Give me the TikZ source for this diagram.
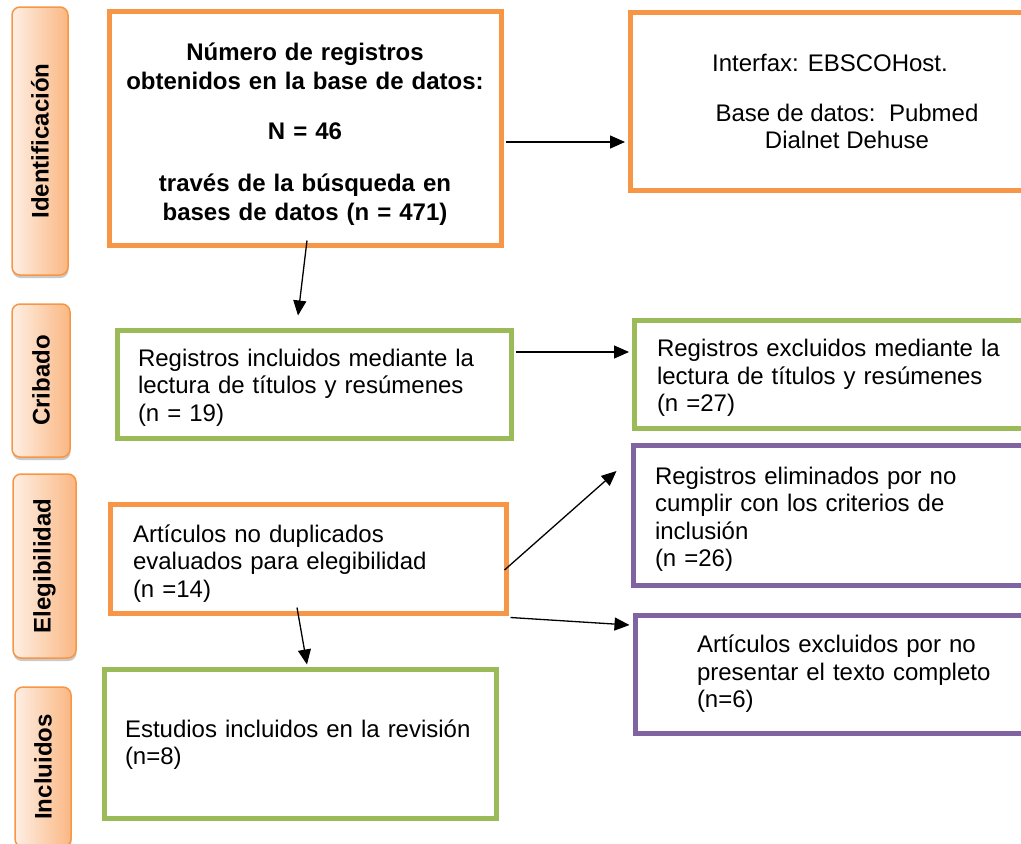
\documentclass[tikz,border=0pt]{standalone}
\usepackage{fontspec}
\setmainfont{Liberation Sans}
\usetikzlibrary{arrows.meta,calc,shadows}
\definecolor{orng}{HTML}{F79646}
\definecolor{grn}{HTML}{9BBB59}
\definecolor{prp}{HTML}{8064A2}
\definecolor{peachL}{HTML}{FEEFE4}
\definecolor{peachR}{HTML}{FAB783}
\newcommand{\tpad}[1]{\rule{0pt}{#1}}
\begin{document}
\begin{tikzpicture}[x=1pt,y=-1pt,
  box/.style={draw, line width=5pt, rectangle, inner ysep=2pt, align=left,
    font=\fontsize{24}{27.5}\selectfont, anchor=center},
  txt/.style={inner sep=0pt, font=\fontsize{24}{27}\selectfont},
  slab/.style={draw=orng, line width=1.5pt, rounded corners=8pt, left color=peachL,
    right color=peachR, inner sep=0pt,
    drop shadow={shadow xshift=0.5pt, shadow yshift=-3pt, opacity=0.35, fill=black!60},
    font=\bfseries\fontsize{24}{28}\selectfont},
  arr/.style={line width=1.3pt, -{Triangle[length=15pt,width=13pt]}}
]
\useasboundingbox (0,0) rectangle (1021,844);
\clip (0,0) rectangle (1021,844);

% side labels
\node[slab, minimum width=56pt, minimum height=268pt] (sid) at (40,141) {\rotatebox{90}{Identificación}};
\node[slab, minimum width=58pt, minimum height=153pt] (scr) at (41,380.5) {\rotatebox{90}{Cribado}};
\node[slab, minimum width=63pt, minimum height=184pt] (sel) at (44.5,566) {\rotatebox{90}{Elegibilidad}};
\node[slab, minimum width=56pt, minimum height=160pt] (sin) at (43,767) {\rotatebox{90}{Incluidos}};

% main boxes
\node[box, draw=orng, align=center, inner xsep=16pt, text width=360pt,
  minimum width=392pt, minimum height=234pt,
  font=\bfseries\fontsize{24}{29}\selectfont] (idbox) at (305,128)
  {\tpad{30pt}Número de registros\\obtenidos en la base de datos:\\[21pt]N = 46\\[23pt]través de la búsqueda en\\bases de datos (n = 471)};

\node[box, draw=orng, minimum width=410pt, minimum height=178pt] (ebsco) at (835,101) {};
\node[txt, anchor=west] (ebt1) at (712,63) {Interfax: EBSCOHost.};
\node[txt, align=center] (ebt2) at (847,126.5) {Base de datos:\ \ Pubmed\\Dialnet Dehuse};

\node[box, draw=grn, inner xsep=21pt, text width=352pt, minimum width=394pt, minimum height=108pt]
  (green1) at (314,384) {\tpad{24pt}Registros incluidos mediante la\\lectura de títulos y resúmenes\\(n = 19)};

\node[box, draw=grn, inner xsep=23pt, text width=360pt, minimum width=406pt, minimum height=108pt]
  (green2) at (837,374) {\tpad{25pt}Registros excluidos mediante la\\lectura de títulos y resúmenes\\(n =27)};

\node[box, draw=prp, inner xsep=22pt, text width=363pt, minimum width=407pt, minimum height=140pt]
  (purple1) at (836.5,515) {\tpad{26pt}Registros eliminados por no\\cumplir con los criterios de\\inclusión\\(n =26)};

\node[box, draw=orng, inner xsep=23pt, text width=350pt, minimum width=396pt, minimum height=109pt]
  (eleg) at (308,558.5) {\tpad{27pt}Artículos no duplicados\\evaluados para elegibilidad\\(n =14)};

\node[box, draw=prp, inner xsep=62pt, text width=301pt, minimum width=425pt, minimum height=118pt]
  (purple2) at (847.5,674) {Artículos excluidos por no\\presentar el texto completo\\(n=6)};

\node[box, draw=grn, inner xsep=21pt, text width=350pt, minimum width=392pt, minimum height=149pt]
  (green3) at (300,743.5) {\tpad{20pt}Estudios incluidos en la revisión\\(n=8)};

% connectors
\draw[arr, shorten >=2.5pt] ($(idbox.east)+(2,14)$) coordinate (a1) -- (a1 -| ebsco.west);
\draw[arr] ($(idbox.south)+(2,-7)$) -- ($(green1.north)+(-16,-12)$);
\draw[arr, shorten >=2.5pt] ($(green1.east)+(2,-32)$) coordinate (a3) -- (a3 -| green2.west);
\draw[arr] ($(eleg.east)+(-4,11.5)$) -- ($(purple1.west)+(-14,-44)$);
\draw[arr] ($(eleg.south east)+(2,2)$) -- ($(purple2.west)+(-3,-49)$);
\draw[arr] ($(eleg.south)+(-11,-8)$) -- ($(green3.north)+(7,-2)$);
\end{tikzpicture}
\end{document}
